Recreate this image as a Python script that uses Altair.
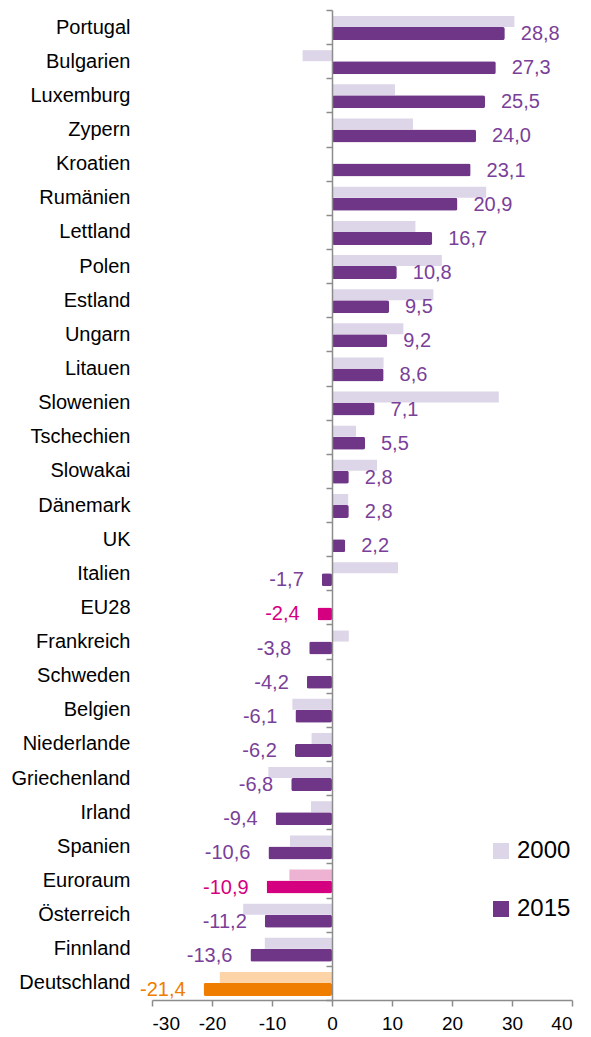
import altair as alt
import pandas as pd

# ---- data ----
countries = ["Portugal", "Bulgarien", "Luxemburg", "Zypern", "Kroatien", "Rumänien",
             "Lettland", "Polen", "Estland", "Ungarn", "Litauen", "Slowenien",
             "Tschechien", "Slowakai", "Dänemark", "UK", "Italien", "EU28",
             "Frankreich", "Schweden", "Belgien", "Niederlande", "Griechenland",
             "Irland", "Spanien", "Euroraum", "Österreich", "Finnland", "Deutschland"]
values_2015 = [28.8, 27.3, 25.5, 24.0, 23.1, 20.9, 16.7, 10.8, 9.5, 9.2, 8.6, 7.1,
               5.5, 2.8, 2.8, 2.2, -1.7, -2.4, -3.8, -4.2, -6.1, -6.2, -6.8, -9.4,
               -10.6, -10.9, -11.2, -13.6, -21.4]
values_2000 = [30.4, -4.9, 10.5, 13.5, None, 25.7, 13.9, 18.3, 16.9, 11.9, 8.6, 27.8,
               4.0, 7.5, 2.7, None, 11.0, None, 2.8, None, -6.6, -3.4, -10.6, -3.5,
               -7.0, -7.1, -14.8, -11.2, -18.7]
aggregates = ["EU28", "Euroraum"]
highlighted = ["Deutschland"]
years = ["2000", "2015"]
x_ticks = [-30, -20, -10, 0, 10, 20, 30, 40]

rows = []
for land, a, b in zip(countries, values_2000, values_2015):
    grp = "eu" if land in aggregates else ("de" if land in highlighted else "std")
    suffix = {"eu": " EU", "de": " DE", "std": ""}[grp]
    if a is not None:
        rows.append({"land": land, "jahr": "2000", "wert": a, "gruppe": grp, "farbe": "2000" + suffix})
    rows.append({"land": land, "jahr": "2015", "wert": b, "gruppe": grp, "farbe": "2015" + suffix})
df = pd.DataFrame(rows)

# ---- styling ----
FONT = "Liberation Sans, Arial, sans-serif"
GRAY = "#8C8C8C"
PURPLE = "#6F3587"
LAVENDER = "#DDD5E8"
PINK = "#D5007F"
LIGHT_PINK = "#EEB3D2"
ORANGE = "#EF7D00"
LIGHT_ORANGE = "#FDD4A8"
TEXT_PURPLE = "#7A3F98"

W, H = 420, 990
X_MIN, X_MAX = -30, 40
ZERO_POS = W * (0 - X_MIN) / (X_MAX - X_MIN)

color_keys = ["2000", "2015", "2000 EU", "2015 EU", "2000 DE", "2015 DE"]
color_vals = [LAVENDER, PURPLE, LIGHT_PINK, PINK, LIGHT_ORANGE, ORANGE]

base = alt.Chart(df)

y_enc = alt.Y(
    "land:N", sort=countries, title=None,
    scale=alt.Scale(paddingInner=0, paddingOuter=0),
    axis=alt.Axis(orient="left", offset=-ZERO_POS,
                  domain=True, domainColor=GRAY, domainWidth=1.5,
                  ticks=True, tickBand="extent", tickSize=6, tickColor=GRAY, tickWidth=1.5,
                  labelPadding=ZERO_POS + 22 - 6, labelFontSize=20, labelColor="black",
                  labelFont=FONT, labelLimit=300, zindex=1),
)
x_enc = alt.X(
    "wert:Q", title=None,
    scale=alt.Scale(domain=[X_MIN, X_MAX], nice=False),
    axis=alt.Axis(values=x_ticks, grid=False, domainColor=GRAY, domainWidth=1.5,
                  tickColor=GRAY, tickWidth=1.5, tickSize=6, labelFontSize=19,
                  labelColor="black", labelFont=FONT, labelPadding=8, format="d"),
)
color_enc = alt.Color(
    "farbe:N",
    scale=alt.Scale(domain=color_keys, range=color_vals),
    legend=alt.Legend(values=years, title=None, orient="none", legendX=337, legendY=829,
                      symbolType="square", symbolSize=256, symbolStrokeWidth=0,
                      labelFontSize=24, labelFont=FONT, labelColor="black",
                      rowPadding=34, labelOffset=4),
)
text_color = (alt.when(alt.datum.gruppe == "eu").then(alt.value(PINK))
              .when(alt.datum.gruppe == "de").then(alt.value(ORANGE))
              .otherwise(alt.value(TEXT_PURPLE)))

bars_2000 = base.transform_filter(alt.datum.jahr == "2000").mark_bar(
    size=11, yOffset=-5.5).encode(x=x_enc, y=y_enc, color=color_enc)
bars_2015 = base.transform_filter(alt.datum.jahr == "2015").mark_bar(
    size=13, yOffset=6.5, cornerRadius=2).encode(x=x_enc, y=y_enc, color=color_enc)

label_pos = base.transform_filter((alt.datum.jahr == "2015") & (alt.datum.wert > 0)).mark_text(
    align="left", baseline="middle", dx=16, dy=7, fontSize=20, font=FONT).encode(
    x=x_enc, y=y_enc, text=alt.Text("wert:Q", format=".1f"), color=text_color)
label_neg = base.transform_filter((alt.datum.jahr == "2015") & (alt.datum.wert < 0)).mark_text(
    align="right", baseline="middle", dx=-18, dy=7, fontSize=20, font=FONT).encode(
    x=x_enc, y=y_enc, text=alt.Text("wert:Q", format=".1f"), color=text_color)

chart = alt.layer(bars_2000, bars_2015, label_pos, label_neg).properties(
    width=W, height=H,
    autosize=alt.AutoSizeParams(type="none"),
    padding={"left": 144, "top": 2, "right": 11, "bottom": 36},
).configure(
    view=alt.ViewConfig(stroke="transparent"),
    locale={"number": {"decimal": ",", "thousands": ".", "grouping": [3],
                       "currency": ["", " €"], "minus": "-"}},
)

chart.save("out.html", embed_options={"renderer": "svg", "actions": False})
